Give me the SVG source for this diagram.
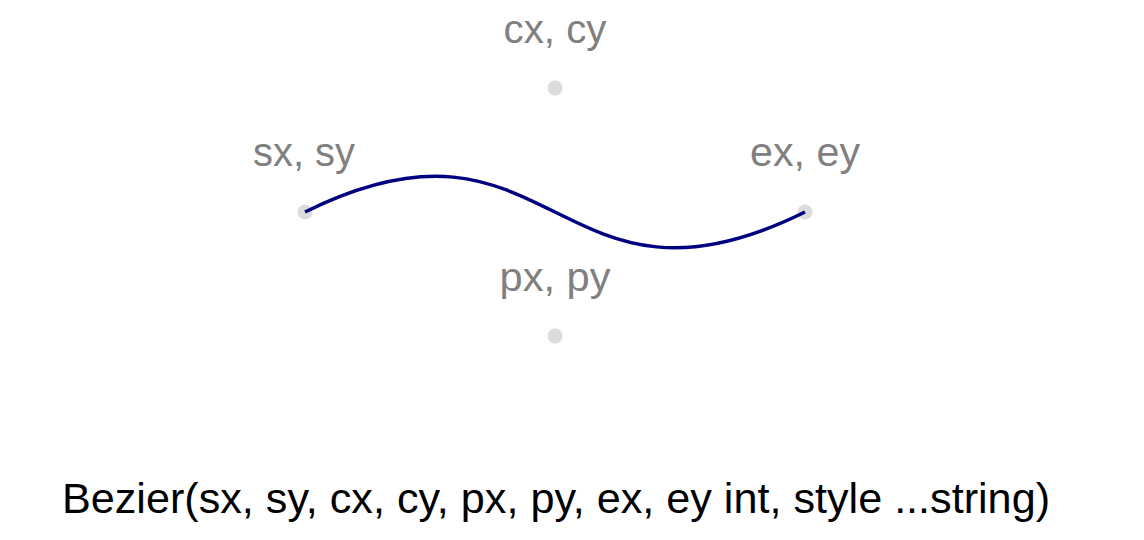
<svg xmlns="http://www.w3.org/2000/svg" width="1144" height="540" viewBox="0 0 1144 540">
<style>
.lbl{font-family:"Liberation Sans",Arial,sans-serif;font-size:41px;fill:#808080;text-anchor:middle}
.dot{fill:#dcdcdc}
.curve{fill:none;stroke:#000080;stroke-width:3.5}
.title{font-family:"Liberation Sans",Arial,sans-serif;font-size:43px;fill:#000}
</style>
<rect width="1144" height="540" fill="#fff"/>
<g id="c"><circle class="dot" cx="555" cy="88" r="7.5"/><text class="lbl" x="555" y="43" textLength="103" lengthAdjust="spacingAndGlyphs">cx, cy</text></g>
<g id="p"><circle class="dot" cx="555" cy="336" r="7.5"/><text class="lbl" x="555" y="291" textLength="111" lengthAdjust="spacingAndGlyphs">px, py</text></g>
<g id="s"><circle class="dot" cx="305" cy="212" r="7.5"/><text class="lbl" x="304" y="166" textLength="102" lengthAdjust="spacingAndGlyphs">sx, sy</text></g>
<g id="e"><circle class="dot" cx="805" cy="212" r="7.5"/><text class="lbl" x="805" y="166" textLength="110" lengthAdjust="spacingAndGlyphs">ex, ey</text></g>
<g id="connectors"><path class="curve" d="M305,212 C555,88 555,336 805,212"/></g>
<g id="caption"><text class="title" x="62" y="513" textLength="988" lengthAdjust="spacingAndGlyphs">Bezier(sx, sy, cx, cy, px, py, ex, ey int, style ...string)</text></g>
</svg>
